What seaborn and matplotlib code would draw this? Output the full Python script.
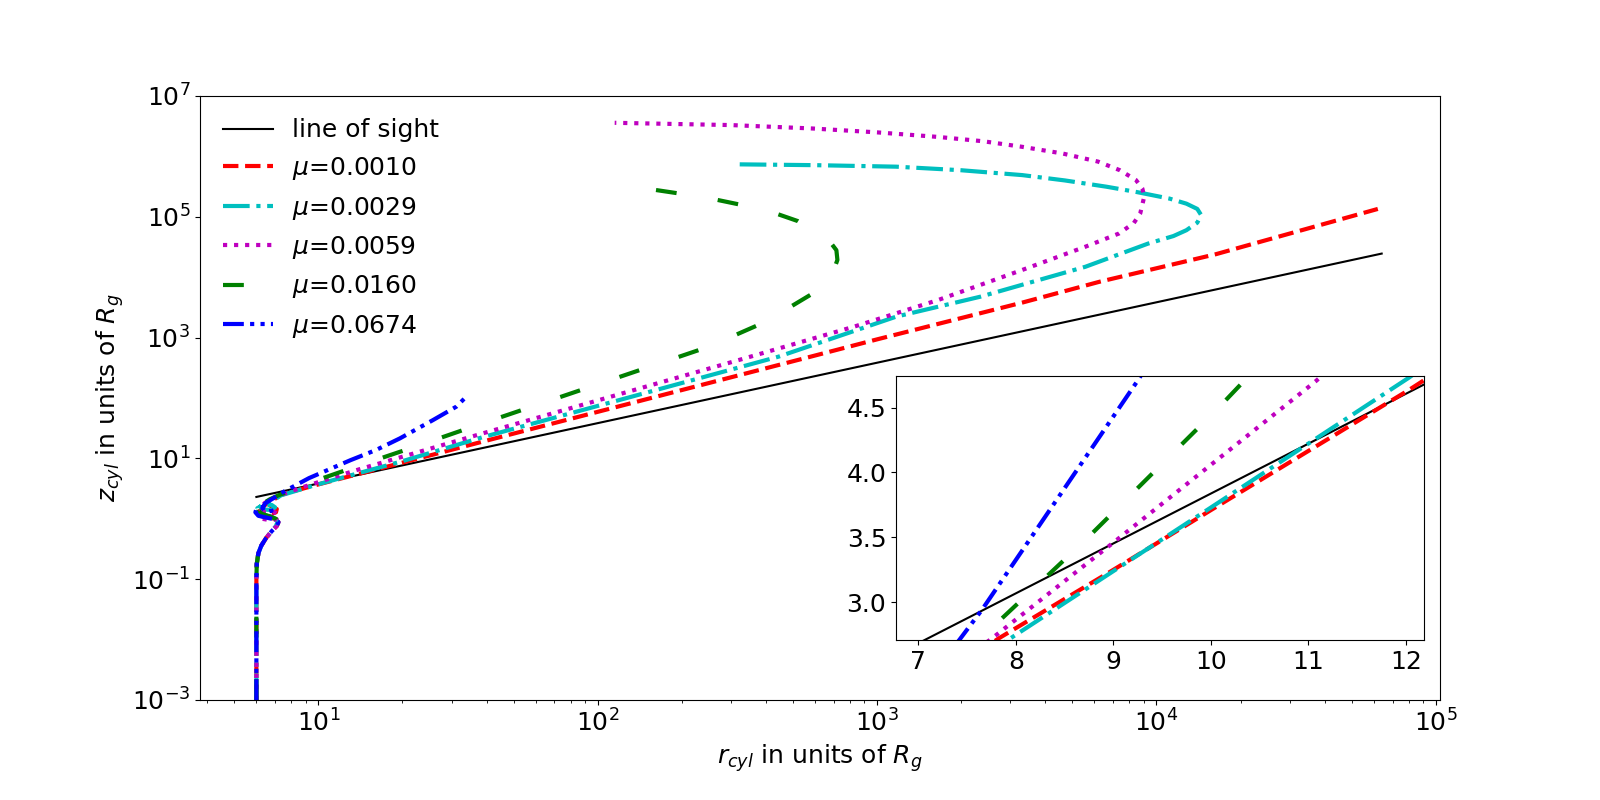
import matplotlib
matplotlib.use("Agg")
import matplotlib.pyplot as plt
import seaborn as sns

plt.rcParams['font.size'] = 18
plt.rcParams['font.family'] = ['DejaVu Sans']

# line of sight
r_los = [6.0, 64000.0]
z_los = [2.30, 24600.0]

# mu = 0.0010 (red)
r_red = [6.0, 6.0, 6.0, 6.0, 6.0, 6.02, 6.1, 6.25, 6.5, 6.8, 7.1, 7.2, 7.0, 6.55, 6.2, 6.1, 6.3, 6.75, 7.1, 7.05, 6.7, 6.35, 6.3, 6.6, 7.0, 7.3,
         7.82, 9.0, 10.0, 12.04, 20.0, 38.8, 100.0, 565.0, 1000.0, 3310.0, 6250.0, 16300.0, 62000.0]
z_red = [0.001, 0.003, 0.01, 0.03, 0.1, 0.18, 0.27, 0.36, 0.48, 0.62, 0.76, 0.88, 1.0, 1.05, 1.12, 1.3, 1.48, 1.55, 1.45, 1.28, 1.2, 1.3, 1.55, 1.85, 2.15, 2.45,
         2.72, 3.25, 3.71, 4.64, 8.5, 19.0, 59.0, 470.0, 935.0, 3800.0, 8400.0, 24000.0, 135000.0]

# mu = 0.0029 (cyan)
r_cyan = [6.0, 6.0, 6.0, 6.0, 6.0, 6.02, 6.1, 6.25, 6.5, 6.8, 7.05, 7.15, 6.9, 6.45, 6.1, 6.05, 6.35, 6.8, 7.0, 6.8, 6.4, 6.2, 6.35, 6.8, 7.1, 7.35,
          7.94, 9.0, 10.0, 12.03, 20.0, 38.8, 120.0, 444.0, 1170.0, 2340.0, 5570.0, 9330.0, 11500.0, 12800.0, 14000.0, 14450.0,
          14000.0, 12800.0, 11140.0, 8500.0, 6620.0, 4700.0, 3310.0, 2000.0, 1170.0, 600.0, 308.0]
z_cyan = [0.001, 0.003, 0.01, 0.03, 0.1, 0.18, 0.27, 0.36, 0.48, 0.62, 0.76, 0.9, 1.05, 1.15, 1.3, 1.5, 1.68, 1.7, 1.55, 1.4, 1.42, 1.6, 1.85, 2.0, 2.2, 2.45,
          2.72, 3.24, 3.73, 4.73, 9.0, 22.5, 93.0, 484.0, 2220.0, 4750.0, 14900.0, 36000.0, 48000.0, 60000.0, 80000.0, 107000.0,
          135000.0, 165000.0, 200000.0, 257000.0, 315000.0, 400000.0, 490000.0, 590000.0, 676000.0, 716000.0, 740000.0]

# mu = 0.0059 (magenta)
r_mag = [6.0, 6.0, 6.0, 6.0, 6.0, 6.02, 6.1, 6.25, 6.5, 6.8, 7.1, 7.25, 7.1, 6.7, 6.3, 6.2, 6.45, 6.9, 7.15, 7.0, 6.6, 6.3, 6.2, 6.45, 6.85, 7.25,
         7.745, 9.0, 11.07, 14.0, 38.8, 336.0, 826.0, 1656.0, 3310.0, 5570.0, 7350.0, 8300.0, 8750.0, 9040.0, 8900.0, 8440.0, 7400.0, 6180.0,
         4600.0, 3310.0, 2400.0, 1656.0, 1000.0, 585.0, 300.0, 115.0]
z_mag = [0.001, 0.003, 0.01, 0.03, 0.1, 0.18, 0.27, 0.36, 0.48, 0.62, 0.76, 0.9, 0.98, 0.95, 1.0, 1.15, 1.3, 1.32, 1.2, 1.08, 1.1, 1.28, 1.55, 1.85, 2.15, 2.45,
         2.716, 3.46, 4.70, 6.6, 26.0, 454.0, 1515.0, 4200.0, 13200.0, 32000.0, 53000.0, 79000.0, 114000.0, 215000.0, 295000.0, 407000.0, 590000.0, 820000.0,
         1120000.0, 1440000.0, 1780000.0, 2100000.0, 2500000.0, 2900000.0, 3300000.0, 3600000.0]

# mu = 0.0160 (green)
r_grn = [6.0, 6.0, 6.0, 6.0, 6.0, 6.02, 6.1, 6.25, 6.5, 6.8, 7.05, 7.2, 7.05, 6.7, 6.3, 6.1, 6.2, 6.6, 6.95, 6.85, 6.5, 6.25, 6.35, 6.7, 7.2,
         7.63, 8.7, 10.08, 13.5, 21.8, 35.7, 250.0, 399.0, 617.0, 690.0, 721.0, 715.0, 680.0, 638.0, 520.0, 399.0, 242.0, 139.0]
z_grn = [0.001, 0.003, 0.01, 0.03, 0.1, 0.18, 0.27, 0.36, 0.48, 0.62, 0.76, 0.88, 1.0, 1.1, 1.2, 1.36, 1.55, 1.65, 1.55, 1.38, 1.35, 1.5, 1.8, 2.1, 2.45,
         2.716, 3.47, 4.50, 7.2, 15.2, 33.5, 708.0, 1830.0, 6140.0, 11000.0, 19300.0, 28000.0, 38000.0, 47000.0, 85000.0, 130000.0, 210000.0, 308000.0]

# mu = 0.0674 (blue)
r_blu = [6.0, 6.0, 6.0, 6.0, 6.0, 6.02, 6.1, 6.25, 6.5, 6.8, 7.1, 7.2, 6.95, 6.5, 6.1, 5.95, 6.0, 6.3, 6.75, 6.8, 6.5, 6.3, 6.45, 6.8,
         7.15, 7.42, 7.65, 9.26, 13.0, 16.1, 19.6, 25.7, 31.2, 33.4]
z_blu = [0.001, 0.003, 0.01, 0.03, 0.1, 0.18, 0.27, 0.36, 0.48, 0.62, 0.76, 0.88, 0.98, 1.05, 1.12, 1.28, 1.45, 1.55, 1.5, 1.35, 1.32, 1.5, 1.8, 2.1,
         2.45, 2.71, 2.94, 4.72, 9.3, 13.8, 21.5, 43.0, 72.0, 99.0]

series = [
    ("line of sight", r_los, z_los, "k", "-", 1.5),
    (r"$\mu$=0.0010", r_red, z_red, "r", "--", 3),
    (r"$\mu$=0.0029", r_cyan, z_cyan, "c", "-.", 3),
    (r"$\mu$=0.0059", r_mag, z_mag, "m", ":", 3),
    (r"$\mu$=0.0160", r_grn, z_grn, "g", (0, (5, 10)), 3),
    (r"$\mu$=0.0674", r_blu, z_blu, "b", (0, (5, 1.5, 1, 1.5, 1, 1.5)), 3),
]

fig = plt.figure(figsize=(16, 8), dpi=100)
ax = fig.add_axes([0.125, 0.125, 0.775, 0.755])
for lab, rr, zz, col, ls, lw in series:
    sns.lineplot(x=rr, y=zz, sort=False, estimator=None, ax=ax, color=col,
                 linestyle=ls, linewidth=lw, label=lab)
ax.set_xscale("log")
ax.set_yscale("log")
ax.set_xlim(3.77, 1.035e5)
ax.set_ylim(1e-3, 1e7)
ax.set_xlabel(r"$r_{cyl}$ in units of $R_g$")
ax.set_ylabel(r"$z_{cyl}$ in units of $R_g$")
ax.legend(frameon=False, loc="upper left")

axin = fig.add_axes([0.56, 0.2, 0.33, 0.33])
for lab, rr, zz, col, ls, lw in series:
    sns.lineplot(x=rr, y=zz, sort=False, estimator=None, ax=axin, color=col,
                 linestyle=ls, linewidth=lw, legend=False)
axin.set_xlim(6.77, 12.185)
axin.set_ylim(2.709, 4.743)
axin.set(xlabel=None, ylabel=None)

fig.savefig("out.png", dpi=100)
